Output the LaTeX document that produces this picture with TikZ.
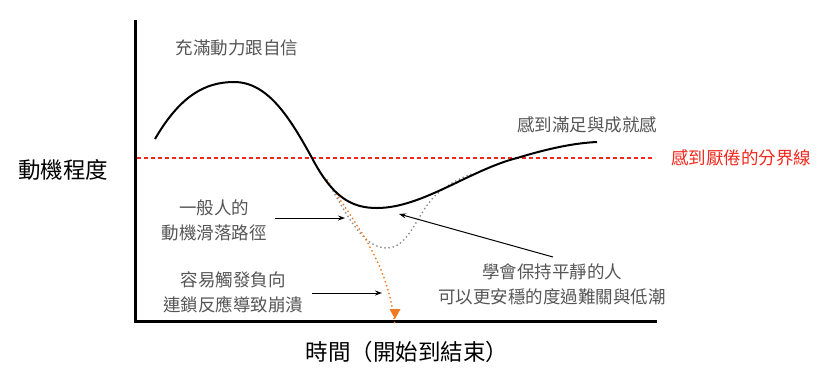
\documentclass[tikz,border=0pt]{standalone}
\usepackage{fontspec}
\setmainfont{Noto Sans CJK TC}
\usetikzlibrary{arrows.meta}
\definecolor{notegray}{HTML}{555555}
\definecolor{limitred}{HTML}{F0281E}
\definecolor{fallorange}{HTML}{F07A22}
\definecolor{calmgray}{HTML}{8E8E8E}
\begin{document}
\begin{tikzpicture}[x=1pt,y=-1pt]
\tikzstyle{every node}+=[inner sep=0pt]
\tikzstyle{note}=[text=notegray,align=center,font=\fontsize{17.5}{25}\selectfont]
\tikzstyle{axislabel}=[text=black,font=\fontsize{22.5}{27}\selectfont]
\tikzstyle{pointer}=[black,line width=1pt,-{Stealth[length=7pt,width=5pt]}]
\tikzstyle{dots}=[line width=2pt,line cap=round,dash pattern=on 0pt off 4.2pt]
\useasboundingbox (0,0) rectangle (829,384);
\coordinate (origin) at (135,321);
\coordinate (ytop) at (135,20);
\coordinate (xend) at (657,321);
\draw [black,line width=3pt] (ytop) -- (origin) -- (xend);
\coordinate (limitleft) at (137,158);
\coordinate (limitright) at (655,158);
\draw [limitred,dash pattern=on 4pt off 3pt,line width=1.5pt] (limitleft) -- (limitright);
\node [axislabel] (ylabel) at (63,170) {動機程度};
\node [axislabel] (xlabel) at (407,352) {時間（開始到結束）};
\node [note] (peaknote) at (237,48) {充滿動力跟自信};
\node [note] (topnote) at (587,125) {感到滿足與成就感};
\node [note,text=limitred] (limitnote) at (741,158) {感到厭倦的分界線};
\node [note] (fallnote) at (214,220) {一般人的\\動機滑落路徑};
\node [note] (crashnote) at (233,292.5) {容易觸發負向\\連鎖反應導致崩潰};
\node [note] (calmnote) at (552,284.5) {學會保持平靜的人\\可以更安穩的度過難關與低潮};
\coordinate (start) at (155,139);
\coordinate (peak) at (234,82);
\coordinate (cross) at (312,158);
\coordinate (split) at (327,180);
\coordinate (bottom) at (377,208);
\coordinate (recross) at (517,158);
\coordinate (finish) at (597,142);
\coordinate (calmlow) at (387,248);
\coordinate (rejoin) at (475,173);
\coordinate (crashend) at (395,319);
\draw [calmgray,dots] (split) .. controls (350,222) and (365,248) .. (calmlow)
  .. controls (410,248) and (418,210) .. (437,194) .. controls (450,183) and (462,177) .. (rejoin);
\draw [fallorange,dots] (split) .. controls (358,228) and (388,262) .. ([yshift=-7pt]crashend);
\fill [fallorange] (crashend) -- (389.5,309) -- (400.5,309) -- cycle;
\draw [black,line width=2pt] (start) .. controls (180,96) and (205,82) .. (peak)
  .. controls (268,82) and (290,118) .. (cross)
  .. controls (333,198) and (352,208) .. (bottom)
  .. controls (422,208) and (470,170) .. (recross)
  .. controls (550,148) and (575,143) .. (finish);
\coordinate (fallfrom) at (275,218);
\coordinate (fallto) at (345,218);
\coordinate (crashfrom) at (312,293);
\coordinate (crashto) at (382,293);
\coordinate (calmfrom) at (553,257);
\coordinate (calmto) at (399,214);
\draw [pointer] (fallfrom) -- (fallto);
\draw [pointer] (crashfrom) -- (crashto);
\draw [pointer] (calmfrom) -- (calmto);
\end{tikzpicture}
\end{document}
